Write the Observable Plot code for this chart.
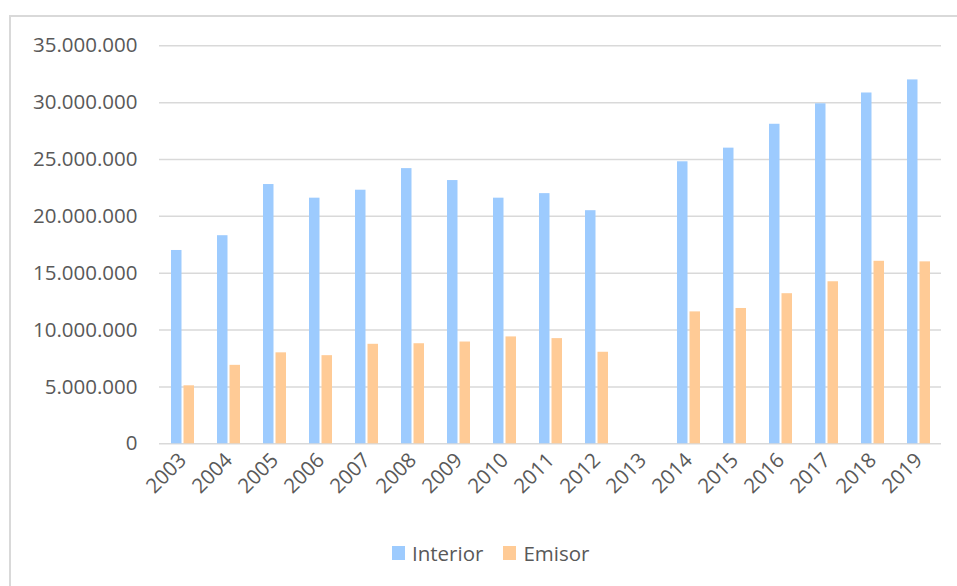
<!DOCTYPE html>
<html>
<head>
<meta charset="utf-8">
<script src="https://cdn.jsdelivr.net/npm/d3@7"></script>
<script src="https://cdn.jsdelivr.net/npm/@observablehq/plot@0.6"></script>
<style>
  html, body { margin: 0; padding: 0; background: #fff; }
  body { width: 957px; height: 586px; overflow: hidden; position: relative; font-family: "Open Sans", sans-serif; }
  #frame { position: absolute; left: 9px; top: 15px; width: 960px; height: 600px; border-left: 2px solid #d9d9d9; border-top: 2px solid #d9d9d9; box-sizing: border-box; }
  #chart { position: absolute; left: 0; top: 0; }
  #legend { position: absolute; left: 392px; top: 539px; display: flex; align-items: center; font-size: 20.5px; color: #595959; }
  .sw { width: 13px; height: 14px; display: inline-block; margin-right: 7px; }
  .item { display: flex; align-items: center; margin-right: 20px; }
</style>
</head>
<body>
<div id="frame"></div>
<div id="chart"></div>
<div id="legend"></div>
<script>
const years = ["2003","2004","2005","2006","2007","2008","2009","2010","2011","2012","2013","2014","2015","2016","2017","2018","2019"];
const interior = [17.0e6, 18.3e6, 22.8e6, 21.6e6, 22.3e6, 24.2e6, 23.15e6, 21.6e6, 22.0e6, 20.5e6, null, 24.8e6, 26.0e6, 28.1e6, 29.9e6, 30.85e6, 32.0e6];
const emisor = [5.1e6, 6.9e6, 8.0e6, 7.75e6, 8.75e6, 8.8e6, 8.95e6, 9.4e6, 9.25e6, 8.05e6, null, 11.6e6, 11.9e6, 13.2e6, 14.25e6, 16.05e6, 16.0e6];
const seriesNames = ["Interior", "Emisor"];
const seriesColors = ["#9dcbfe", "#ffcb96"];
const yTicks = [0, 5e6, 10e6, 15e6, 20e6, 25e6, 30e6, 35e6];

const toRows = (vals) => years.map((y, i) => ({year: y, value: vals[i]})).filter(d => d.value != null);
const interiorRows = toRows(interior);
const emisorRows = toRows(emisor);

const fmt = d3.formatLocale({decimal: ",", thousands: ".", grouping: [3], currency: ["", ""]}).format(",d");

const chart = Plot.plot({
  width: 957,
  height: 520,
  marginLeft: 159,
  marginRight: 16,
  marginTop: 45.3,
  marginBottom: 76.7,
  style: {fontFamily: "Open Sans, sans-serif", fontSize: "20.5px", color: "#595959", background: "transparent"},
  x: {domain: years, paddingInner: 0.5, paddingOuter: 0.25, label: null},
  y: {domain: [0, 35e6], label: null},
  marks: [
    Plot.ruleY(yTicks, {stroke: "#d9d9d9", strokeWidth: 1.5}),
    Plot.barY(interiorRows, {x: "year", y: "value", fill: seriesColors[0], insetRight: 12.5}),
    Plot.barY(emisorRows, {x: "year", y: "value", fill: seriesColors[1], insetLeft: 12.5}),
    Plot.axisY({ticks: yTicks, tickFormat: fmt, tickSize: 0, tickPadding: 22, label: null, fill: "#595959", fontSize: 20.5}),
    Plot.axisX({tickSize: 0, tickRotate: -45, tickPadding: 13, label: null, fill: "#595959", fontSize: 20.5})
  ]
});
document.getElementById("chart").appendChild(chart);

const legend = document.getElementById("legend");
seriesNames.forEach((name, i) => {
  const item = document.createElement("div");
  item.className = "item";
  const sw = document.createElement("span");
  sw.className = "sw";
  sw.style.background = seriesColors[i];
  const label = document.createElement("span");
  label.textContent = name;
  item.appendChild(sw);
  item.appendChild(label);
  legend.appendChild(item);
});
</script>
</body>
</html>
